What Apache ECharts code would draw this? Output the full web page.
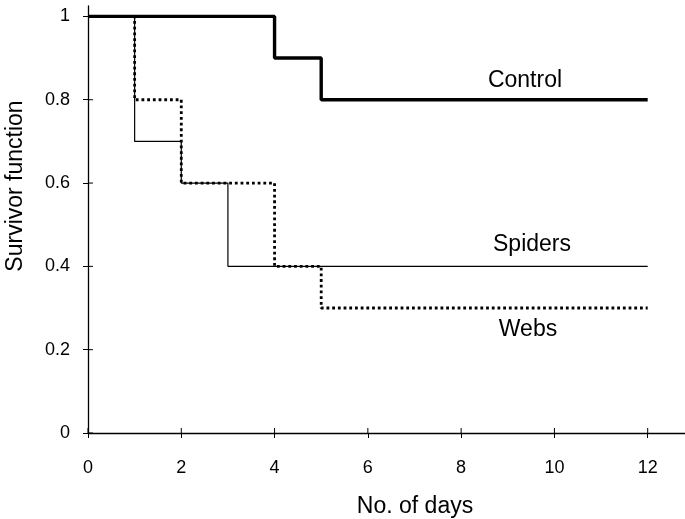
<!DOCTYPE html>
<html>
<head>
<meta charset="utf-8">
<script src="https://cdn.jsdelivr.net/npm/echarts@6/dist/echarts.min.js"></script>
<style>
html,body{margin:0;padding:0;background:#fff;}
#chart{width:685px;height:519px;}
</style>
</head>
<body>
<div id="chart"></div>
<script>
// Data (Kaplan-Meier step curves)
var controlDays = [0, 4, 5, 12];
var controlSurv = [1, 0.9, 0.8, 0.8];
var spidersDays = [0, 1, 2, 3, 12];
var spidersSurv = [1, 0.7, 0.6, 0.4, 0.4];
var websDays = [0, 1, 2, 4, 5, 12];
var websSurv = [1, 0.8, 0.6, 0.4, 0.3, 0.3];
var xTicks = [0, 2, 4, 6, 8, 10, 12];
var yTicks = [0, 0.2, 0.4, 0.6, 0.8, 1];
var xTitle = 'No. of days';
var yTitle = 'Survivor function';
var seriesNames = ['Control', 'Spiders', 'Webs'];

function pairs(xs, ys) {
  return xs.map(function (x, i) { return [x, ys[i]]; });
}

var FONT = '"Liberation Sans", Arial, Helvetica, sans-serif';
var chart = echarts.init(document.getElementById('chart'), null, {renderer: 'canvas'});

// inner halves of the crossing tick marks
var innerTicks = xTicks.map(function (v) { return [v, 0, 'x']; })
  .concat(yTicks.map(function (v) { return [0, v, 'y']; }));

var option = {
  backgroundColor: '#fff',
  animation: false,
  grid: {left: 88, right: 0, top: 6, bottom: 86, containLabel: false},
  xAxis: {
    type: 'value', min: 0, max: 12.8,
    axisLine: {show: true, onZero: false, lineStyle: {color: '#000', width: 1.3}},
    axisTick: {show: true, length: 5, customValues: xTicks, lineStyle: {color: '#000', width: 1}},
    axisLabel: {customValues: xTicks, color: '#000', fontSize: 18, fontFamily: FONT, margin: 26},
    splitLine: {show: false}
  },
  yAxis: {
    type: 'value', min: 0, max: 1.025,
    axisLine: {show: true, onZero: false, lineStyle: {color: '#000', width: 1.3}},
    axisTick: {show: true, length: 5, customValues: yTicks, lineStyle: {color: '#000', width: 1}},
    axisLabel: {customValues: yTicks, color: '#000', fontSize: 18, fontFamily: FONT, margin: 18},
    splitLine: {show: false}
  },
  series: [
    {
      type: 'custom', coordinateSystem: 'cartesian2d', silent: true, clip: false,
      data: innerTicks,
      renderItem: function (params, api) {
        var p = api.coord([api.value(0), api.value(1)]);
        var isX = innerTicks[params.dataIndex][2] === 'x';
        return {
          type: 'line',
          shape: isX ? {x1: p[0], y1: p[1], x2: p[0], y2: p[1] - 5}
                     : {x1: p[0], y1: p[1], x2: p[0] + 5, y2: p[1]},
          style: {stroke: '#000', lineWidth: 1}
        };
      }
    },
    {
      name: seriesNames[2], type: 'line', step: 'end', symbol: 'none',
      data: pairs(websDays, websSurv),
      lineStyle: {color: '#000', width: 2.8, type: [2.8, 2.9], cap: 'butt'}
    },
    {
      name: seriesNames[1], type: 'line', step: 'end', symbol: 'none',
      data: pairs(spidersDays, spidersSurv),
      lineStyle: {color: '#000', width: 1.2}
    },
    {
      name: seriesNames[0], type: 'line', step: 'end', symbol: 'none',
      data: pairs(controlDays, controlSurv),
      lineStyle: {color: '#000', width: 3.4}
    }
  ],
  graphic: [
    {type: 'text', x: 415, y: 507, style: {text: xTitle, font: '23px ' + FONT, fill: '#000', align: 'center', verticalAlign: 'middle'}},
    {type: 'text', x: 16, y: 186, rotation: Math.PI / 2, style: {text: yTitle, font: '23px ' + FONT, fill: '#000', align: 'center', verticalAlign: 'middle'}},
    {type: 'text', x: 525, y: 81, style: {text: seriesNames[0], font: '23px ' + FONT, fill: '#000', align: 'center', verticalAlign: 'middle'}},
    {type: 'text', x: 532, y: 245, style: {text: seriesNames[1], font: '23px ' + FONT, fill: '#000', align: 'center', verticalAlign: 'middle'}},
    {type: 'text', x: 528, y: 330, style: {text: seriesNames[2], font: '23px ' + FONT, fill: '#000', align: 'center', verticalAlign: 'middle'}}
  ]
};
chart.setOption(option);
</script>
</body>
</html>
